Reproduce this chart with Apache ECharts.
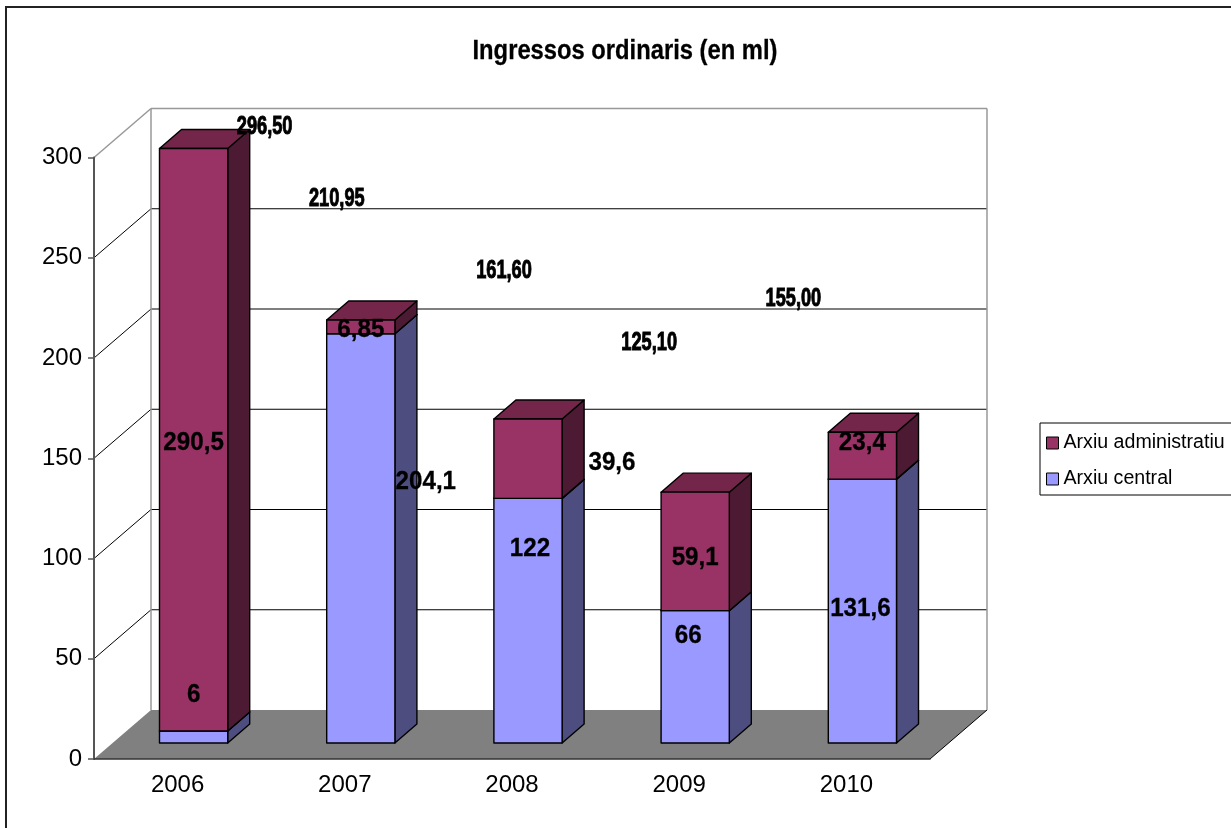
<!DOCTYPE html>
<html>
<head>
<meta charset="utf-8">
<title>Ingressos ordinaris (en ml)</title>
<script src="https://cdn.jsdelivr.net/npm/echarts@6/dist/echarts.min.js"></script>
<style>
  html, body {margin: 0; padding: 0; background: #fff;}
  #chart {width: 1231px; height: 828px;}
</style>
</head>
<body>
<div id="chart"></div>
<script>
  var years = ["2006", "2007", "2008", "2009", "2010"],
    arxiuCentral = [6, 204.1, 122, 66, 131.6],
    arxiuAdministratiu = [290.5, 6.85, 39.6, 59.1, 23.4],
    totals = [296.50, 210.95, 161.60, 125.10, 155.00],
    yTicks = [0, 50, 100, 150, 200, 250, 300]
  ;

  var FONT = "'Liberation Sans', Arial, sans-serif",
    WALL_D = [57, -49],   // profunditat de les parets (3D)
    BAR_D = [22, -19],    // profunditat de cada columna
    BAR_OFF = [16, -16],  // la cara frontal de la columna no toca el pla frontal
    BAR_W = 0.408,
    colCentral = {front: "#9999ff", side: "#4d4d80", top: "#7373bf"},
    colAdmin = {front: "#993366", side: "#4d1a33", top: "#732649"},
    // desplaçaments de les etiquetes tal com les posa l'Excel
    centralShift = [[0, -42], [65, -57], [2, -72], [-7, -41], [-2, -2]],
    adminShift = [[0, 3], [0, 3], [84, 4], [0, 6], [0, -13]],
    totalShift = [[71, -22], [-24, -121], [-24, -148], [-46, -149], [-69, -133]]
  ;

  function fmt(v, d) {
    return (d == null ? String(v) : v.toFixed(d)).replace(".", ",");
  }

  function label(x, y, text, size, sx, thick) {
    return {
      type: "text", x: x, y: y, scaleX: sx, z2: 50,
      style: {text: text, fill: "#000", fontSize: size, fontWeight: "bold", fontFamily: FONT,
        stroke: "#000", lineWidth: thick || 0,
        align: "center", verticalAlign: "middle"}
    };
  }

  function renderWalls(params, api) {
    var cs = params.coordSys, x0 = cs.x, x1 = cs.x + cs.width,
      dx = WALL_D[0], dy = WALL_D[1],
      v = api.value(1), y = api.coord([0, v])[1], floorY = api.coord([0, 0])[1],
      children = [], top = v === yTicks[yTicks.length - 1], c = top ? "#999" : "#000";
    if (v === 0) {
      children.push({type: "polygon", shape: {points: [[x0, y], [x1, y], [x1 + dx, y + dy], [x0 + dx, y + dy]]},
        style: {fill: "#808080"}});
      children.push({type: "line", shape: {x1: x1, y1: y, x2: x1 + dx, y2: y + dy}, style: {stroke: "#000", lineWidth: 1}});
    } else {
      children.push({type: "line", shape: {x1: x0 + dx, y1: y + dy, x2: x1 + dx, y2: y + dy}, style: {stroke: c, lineWidth: top ? 1.5 : 1}});
      children.push({type: "line", shape: {x1: x0, y1: y, x2: x0 + dx, y2: y + dy}, style: {stroke: c, lineWidth: top ? 1.5 : 1}});
      if (top) {
        children.push({type: "line", shape: {x1: x0 + dx, y1: y + dy, x2: x0 + dx, y2: floorY + dy}, style: {stroke: c, lineWidth: 1.5}});
        children.push({type: "line", shape: {x1: x1 + dx, y1: y + dy, x2: x1 + dx, y2: floorY + dy}, style: {stroke: c, lineWidth: 1.5}});
      }
    }
    return {type: "group", children: children};
  }

  function barRenderer(col, shifts) {
    return function (params, api) {
      var i = api.value(0), base = api.value(1), top = api.value(2), val = api.value(3),
        c = api.coord([i, 0]), w = api.size([1, 0])[0] * BAR_W,
        cx = c[0] + BAR_OFF[0],
        yb = api.coord([i, base])[1] + BAR_OFF[1],
        yt = api.coord([i, top])[1] + BAR_OFF[1],
        L = cx - w / 2, R = cx + w / 2, dx = BAR_D[0], dy = BAR_D[1],
        edge = {stroke: "#000", lineWidth: 1.4, lineJoin: "round"};
      return {
        type: "group",
        children: [
          {type: "polygon", shape: {points: [[R, yb], [R, yt], [R + dx, yt + dy], [R + dx, yb + dy]]},
            style: Object.assign({fill: col.side}, edge)},
          {type: "polygon", shape: {points: [[L, yt], [R, yt], [R + dx, yt + dy], [L + dx, yt + dy]]},
            style: Object.assign({fill: col.top}, edge)},
          {type: "rect", shape: {x: L, y: yt, width: w, height: yb - yt},
            style: Object.assign({fill: col.front}, edge)},
          label(cx + shifts[i][0], (yt + yb) / 2 + shifts[i][1], fmt(val), 26, 0.93, 0.3)
        ]
      };
    };
  }

  function renderTotals(params, api) {
    var i = api.value(0), v = api.value(1),
      c = api.coord([i, v]), cx = c[0] + BAR_OFF[0], yt = c[1] + BAR_OFF[1];
    return label(cx + totalShift[i][0], yt + totalShift[i][1], fmt(v, 2), 26, 0.7, 1);
  }

  var centralData = [], adminData = [], totalData = [], wallData = [];
  years.forEach(function (y, i) {
    centralData.push([i, 0, arxiuCentral[i], arxiuCentral[i]]);
    adminData.push([i, arxiuCentral[i], arxiuCentral[i] + arxiuAdministratiu[i], arxiuAdministratiu[i]]);
    totalData.push([i, totals[i]]);
  });
  yTicks.forEach(function (v) { wallData.push([0, v]); });

  var chartDom = echarts.init(document.getElementById("chart"));
  chartDom.setOption({
    animation: false,
    backgroundColor: "#fff",
    textStyle: {fontFamily: FONT},
    graphic: [
      {type: "rect", shape: {x: 6, y: 7, width: 1240, height: 840}, style: {fill: "none", stroke: "#222", lineWidth: 2}, z: -10},
      {type: "text", x: 625, y: 52, scaleX: 0.88,
        style: {text: "Ingressos ordinaris (en ml)", fontSize: 27, fontWeight: "bold", fontFamily: FONT,
          fill: "#000", stroke: "#000", lineWidth: 0.3, align: "center", verticalAlign: "middle"}}
    ],
    legend: {
      orient: "vertical", left: 1040, top: 423,
      data: ["Arxiu administratiu", "Arxiu central"],
      icon: "rect", itemWidth: 12, itemHeight: 12, itemGap: 16,
      padding: [10, 30, 6, 6],
      borderColor: "#000", borderWidth: 1,
      itemStyle: {borderColor: "#000", borderWidth: 1},
      textStyle: {fontSize: 19.6, color: "#000", fontFamily: FONT, lineHeight: 20}
    },
    grid: {left: 94, right: 301, top: 157.5, bottom: 69, containLabel: false},
    xAxis: {
      type: "category", data: years, z: 10,
      axisLine: {lineStyle: {color: "#333", width: 1.5}},
      axisTick: {length: 8, lineStyle: {color: "#333", width: 1.5}},
      axisLabel: {fontSize: 24, color: "#000", margin: 14, fontFamily: FONT},
      splitLine: {show: false}
    },
    yAxis: {
      type: "value", min: 0, max: 300, interval: 50, z: 10,
      axisLine: {show: true, lineStyle: {color: "#555", width: 2}},
      axisTick: {show: true, length: 6, lineStyle: {color: "#555", width: 1.5}},
      axisLabel: {fontSize: 24, color: "#000", margin: 12, fontFamily: FONT},
      splitLine: {show: false}
    },
    series: [
      {name: "parets", type: "custom", renderItem: renderWalls, data: wallData, clip: false, z: 1, silent: true},
      {name: "Arxiu central", type: "custom", renderItem: barRenderer(colCentral, centralShift), data: centralData,
        itemStyle: {color: colCentral.front}, clip: false, z: 3},
      {name: "Arxiu administratiu", type: "custom", renderItem: barRenderer(colAdmin, adminShift), data: adminData,
        itemStyle: {color: colAdmin.front}, clip: false, z: 3},
      {name: "Total", type: "custom", renderItem: renderTotals, data: totalData, clip: false, z: 4}
    ]
  });
</script>
</body>
</html>
